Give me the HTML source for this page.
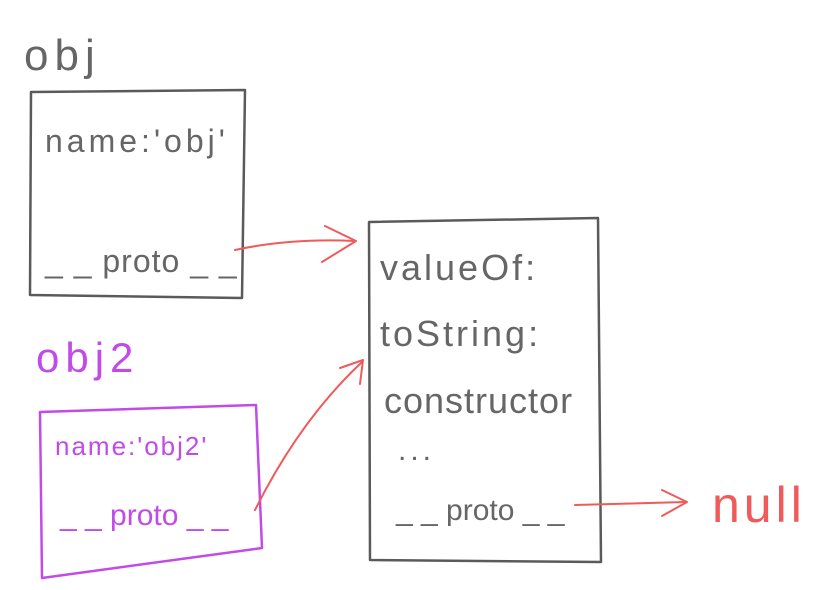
<!DOCTYPE html>
<html><head><meta charset="utf-8"><style>
html,body{margin:0;padding:0;background:#fff;}
svg{display:block}
text{font-family:"Liberation Sans",sans-serif;}
</style></head><body>
<svg width="820" height="590" viewBox="0 0 820 590" xmlns="http://www.w3.org/2000/svg">
<g fill="none" stroke-linecap="round" stroke-linejoin="round">
  <path d="M31 92 L245 90 L242 298 L30 295 Z" stroke="#5a5a5a" stroke-width="2.5"/>
  <path d="M369 222 L598 218 L601 562 L370 560 Z" stroke="#5a5a5a" stroke-width="2.5"/>
  <path d="M40 412 L256 405 L262 548 L42 578 Z" stroke="#c24be8" stroke-width="2.5"/>
  <path d="M235 250 Q290 238 355 241" stroke="#f05a5a" stroke-width="2"/>
  <path d="M325 226 L356 241 L322 262" stroke="#f05a5a" stroke-width="2"/>
  <path d="M255 510 Q300 420 362 362" stroke="#f05a5a" stroke-width="2"/>
  <path d="M340 368 L363 360 L360 384" stroke="#f05a5a" stroke-width="2"/>
  <path d="M575 505 L686 502" stroke="#f05a5a" stroke-width="2"/>
  <path d="M662 490 L687 502 L662 516" stroke="#f05a5a" stroke-width="2"/>
</g>
<g fill="#666">
  <text x="24" y="70" font-size="44" letter-spacing="6">obj</text>
  <text x="45" y="152" font-size="32" letter-spacing="4">name:'obj'</text>
  <text x="45" y="272" font-size="32" letter-spacing="1">_ _ proto _ _</text>
  <text x="380" y="280" font-size="36" letter-spacing="3">valueOf:</text>
  <text x="380" y="346" font-size="36" letter-spacing="3">toString:</text>
  <text x="384" y="413" font-size="36" letter-spacing="1">constructor</text>
  <text x="398" y="460" font-size="30" letter-spacing="4">...</text>
  <text x="396" y="520" font-size="30">_ _ proto _ _</text>
</g>
<g fill="#c24be8">
  <text x="36" y="372" font-size="42" letter-spacing="6">obj2</text>
  <text x="55" y="455" font-size="26" letter-spacing="2">name:'obj2'</text>
  <text x="60" y="525" font-size="30">_ _ proto _ _</text>
</g>
<text x="712" y="522" font-size="50" fill="#f05a5a" letter-spacing="4">null</text>
</svg>
</body></html>
